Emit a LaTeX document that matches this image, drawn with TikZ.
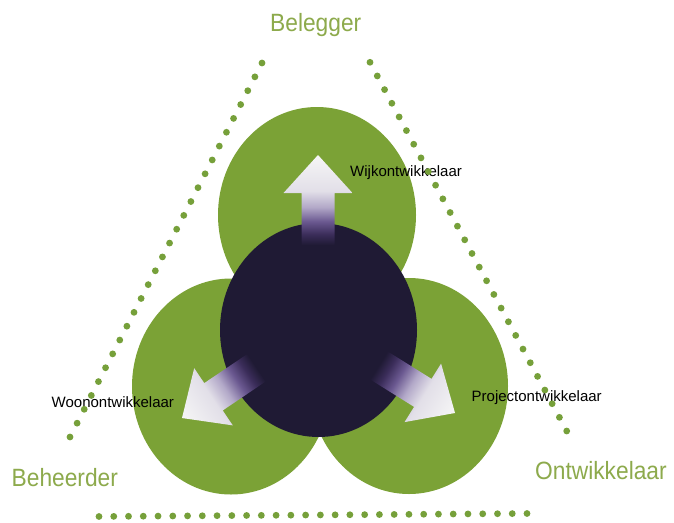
\documentclass[tikz,border=0pt]{standalone}
\usepackage{fontspec}
\usetikzlibrary{shapes.geometric,calc}
\newfontfamily\titlefont[FakeStretch=0.91]{Liberation Sans}
\newfontfamily\labelfont{Liberation Sans}
\definecolor{ballgreen}{HTML}{7BA236}
\definecolor{dotgreen}{HTML}{76A03A}
\definecolor{titlegreen}{HTML}{8DAA4C}
\definecolor{core}{HTML}{1F1A34}
\definecolor{arrowdeep}{HTML}{3B2D5A}
\definecolor{arrowpurple}{HTML}{6A5890}
\definecolor{arrowlav}{HTML}{B2A8C8}
\definecolor{arrowlight}{HTML}{E2DFE8}
\definecolor{arrowtip}{HTML}{F6F6F6}
\pgfdeclarehorizontalshading{arrowshade}{100bp}{color(0bp)=(core); color(25bp)=(core); color(31bp)=(arrowdeep); color(38bp)=(arrowpurple); color(46bp)=(arrowlav); color(55bp)=(arrowlight); color(75bp)=(arrowtip); color(100bp)=(arrowtip)}
\tikzset{
  greenball/.style={ellipse, fill=ballgreen, inner sep=0pt, minimum width=198pt, minimum height=216pt},
  coreball/.style={ellipse, fill=core, inner sep=0pt, minimum width=197pt, minimum height=214pt},
  titletext/.style={inner sep=0pt, anchor=base west, text=titlegreen, font=\titlefont\fontsize{25}{30}\selectfont},
  roletext/.style={inner sep=0pt, anchor=base west, text=black, font=\labelfont\fontsize{15}{18}\selectfont},
  dot/.style={fill=dotgreen},
  bigarrow/.style={shading=arrowshade}
}
\begin{document}
\begin{tikzpicture}[x=1pt,y=-1pt]
\useasboundingbox (0,0) rectangle (674,522);
\fill[white] (0,0) rectangle (674,522);
% circles
\node[greenball] (top) at (317,215) {};
\node[greenball] (left) at (231,386.5) {};
\node[greenball] (right) at (409,386) {};
\node[coreball] (core) at (318.5,330) {};
% arrows
\begin{scope}[transform canvas={xshift=318pt,yshift=-245pt,rotate=90}]
  \path[bigarrow] (0,-16.5) -- (52,-16.5) -- (52,-34.5) -- (90,0) -- (52,34.5) -- (52,16.5) -- (0,16.5) -- cycle;
\end{scope}
\begin{scope}[transform canvas={xshift=256.6pt,yshift=-367.7pt,rotate=214}]
  \path[bigarrow] (0,-16.5) -- (52,-16.5) -- (52,-34.5) -- (90,0) -- (52,34.5) -- (52,16.5) -- (0,16.5) -- cycle;
\end{scope}
\begin{scope}[transform canvas={xshift=378.7pt,yshift=-365.3pt,rotate=-32}]
  \path[bigarrow] (0,-16.5) -- (52,-16.5) -- (52,-34.5) -- (90,0) -- (52,34.5) -- (52,16.5) -- (0,16.5) -- cycle;
\end{scope}
% labels
\node[roletext] (wijk) at (350,176.7) {Wijkontwikkelaar};
\node[roletext] (woon) at (51.5,407) {Woonontwikkelaar};
\node[roletext] (project) at (471.5,401.7) {Projectontwikkelaar};
\node[titletext] (belegger) at (270,31.7) {Belegger};
\node[titletext] (beheerder) at (11.5,486) {Beheerder};
\node[titletext] (ontwikkelaar) at (535,479.3) {Ontwikkelaar};
% dotted triangle
\coordinate (lt) at (262,63);
\coordinate (lb) at (70,437);
\coordinate (rt) at (370,62.3);
\coordinate (rb) at (566.7,431);
\coordinate (bl) at (99,516.5);
\coordinate (br) at (527,513.5);
\foreach \i in {0,...,27} \fill[dot] ($(lt)!\i/27!(lb)$) circle (3.4);
\foreach \i in {0,...,27} \fill[dot] ($(rt)!\i/27!(rb)$) circle (3.4);
\foreach \i in {0,...,29} \fill[dot] ($(bl)!\i/29!(br)$) circle (3.4);
\end{tikzpicture}
\end{document}
